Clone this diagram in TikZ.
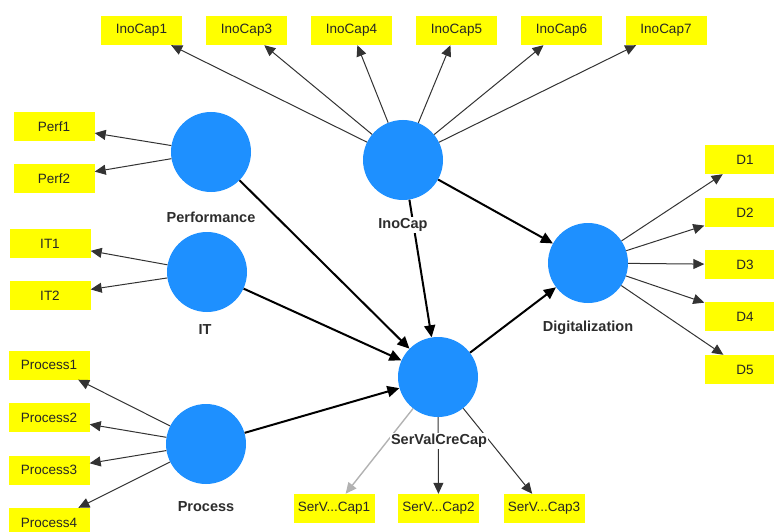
\documentclass[tikz,border=0pt]{standalone}
\usepackage{fontspec}
\setmainfont{Liberation Sans}
\usetikzlibrary{arrows.meta}
\definecolor{lvblue}{RGB}{30,144,255}
\definecolor{indy}{RGB}{255,255,0}
\definecolor{lbltext}{RGB}{45,45,45}
\tikzset{
  lv/.style={circle, fill=lvblue, draw=none, minimum size=80pt, inner sep=0pt},
  ind/.style={rectangle, fill=indy, draw=none, minimum width=81pt, minimum height=29pt, inner sep=0pt, font=\fontsize{13.5}{14}\selectfont, text=black!85},
  lvlabel/.style={fill=white, inner sep=1.5pt, font=\fontsize{14.5}{15}\selectfont\bfseries, text=lbltext},
  meas/.style={draw=black!80, line width=1pt, -{Triangle[length=11pt,width=10pt]}},
  measgray/.style={draw=black!30, line width=1.4pt, -{Triangle[length=11pt,width=10pt]}, color=black!30},
  struct/.style={draw=black, line width=2pt, -{Triangle[length=12pt,width=11pt]}}
}
\begin{document}
\begin{tikzpicture}[x=1pt,y=-1pt]
\useasboundingbox (0,0) rectangle (774,532);
\clip (0,0) rectangle (774,532);
% latent variables
\node[lv] (ino) at (403,160) {};
\node[lv] (perf) at (211,152) {};
\node[lv] (it) at (207,272) {};
\node[lv] (proc) at (206,444) {};
\node[lv] (svc) at (438,377) {};
\node[lv] (dig) at (588,263) {};
% indicators
\node[ind] (i1) at (141.5,30.5) {InoCap1};
\node[ind] (i3) at (246.5,30.5) {InoCap3};
\node[ind] (i4) at (351.5,30.5) {InoCap4};
\node[ind] (i5) at (456.5,30.5) {InoCap5};
\node[ind] (i6) at (561.5,30.5) {InoCap6};
\node[ind] (i7) at (666,30.5) {InoCap7};
\node[ind] (p1) at (54,126.5) {Perf1};
\node[ind] (p2) at (54,178.5) {Perf2};
\node[ind] (t1) at (50,243.5) {IT1};
\node[ind] (t2) at (50,295.5) {IT2};
\node[ind] (r1) at (49,365) {Process1};
\node[ind] (r2) at (49,417.5) {Process2};
\node[ind] (r3) at (49,470) {Process3};
\node[ind] (r4) at (49,522.5) {Process4};
\node[ind] (s1) at (334,508.5) {SerV...Cap1};
\node[ind] (s2) at (438.5,508.5) {SerV...Cap2};
\node[ind] (s3) at (544,508.5) {SerV...Cap3};
\node[ind] (d1) at (745,159.5) {D1};
\node[ind] (d2) at (745,212.5) {D2};
\node[ind] (d3) at (745,264.5) {D3};
\node[ind] (d4) at (745,316.5) {D4};
\node[ind] (d5) at (745,369.5) {D5};
% measurement arrows
\foreach \b in {i1,i3,i4,i5,i6,i7} \draw[meas] (ino) -- (\b);
\foreach \b in {p1,p2} \draw[meas] (perf) -- (\b);
\foreach \b in {t1,t2} \draw[meas] (it) -- (\b);
\foreach \b in {r1,r2,r3,r4} \draw[meas] (proc) -- (\b);
\foreach \b in {d1,d2,d3,d4,d5} \draw[meas] (dig) -- (\b);
\draw[measgray] (svc) -- (s1);
\draw[meas] (svc) -- (s2);
\draw[meas] (svc) -- (s3);
% structural arrows
\draw[struct] (perf) -- (svc);
\draw[struct] (it) -- (svc);
\draw[struct] (proc) -- (svc);
\draw[struct] (ino) -- (svc);
\draw[struct] (ino) -- (dig);
\draw[struct] (svc) -- (dig);
% labels
\node[lvlabel] (lperf) at (211,217) {Performance};
\node[lvlabel] (lit) at (205,330) {IT};
\node[lvlabel] (lproc) at (206,507) {Process};
\node[lvlabel] (lino) at (403,225) {InoCap};
\node[lvlabel] (lsvc) at (439,441) {SerValCreCap};
\node[lvlabel] (ldig) at (588,328) {Digitalization};
\end{tikzpicture}
\end{document}
